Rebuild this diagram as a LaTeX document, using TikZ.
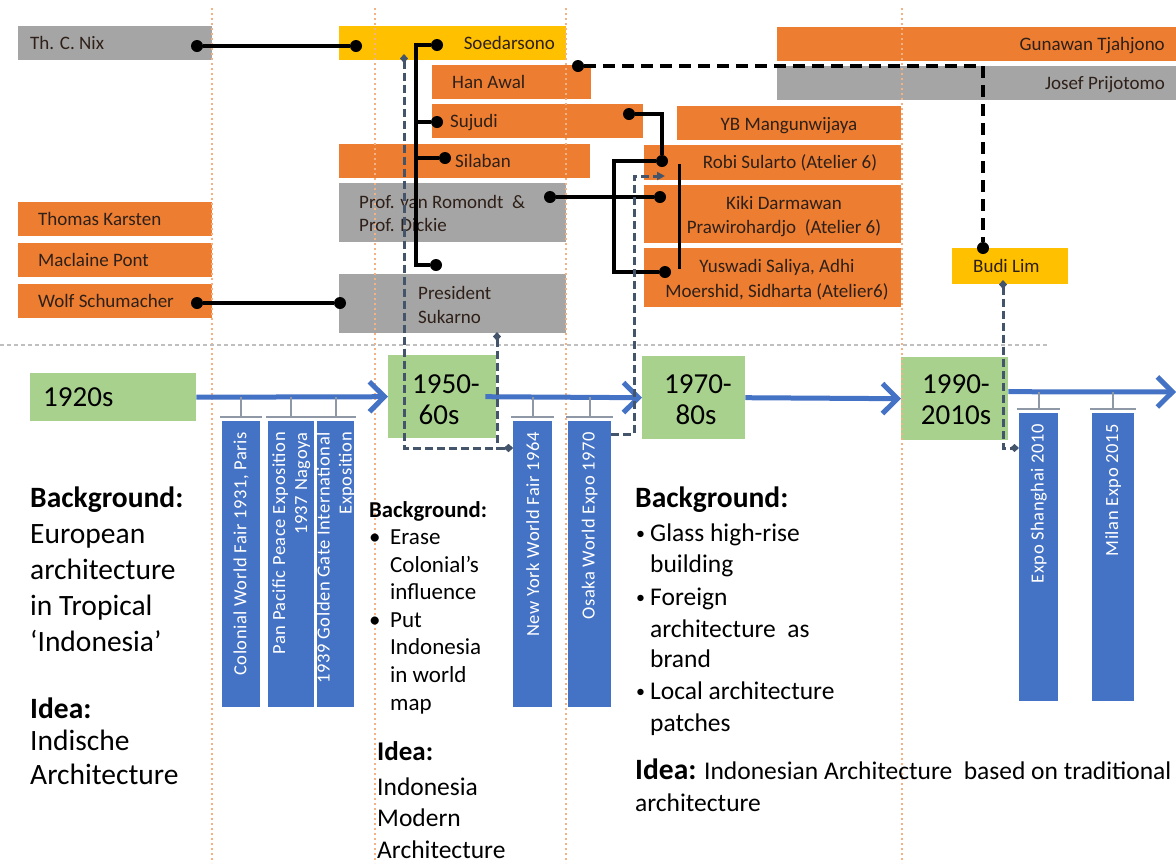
\documentclass[tikz,border=0pt]{standalone}
\usepackage{fontspec}
\setmainfont{Carlito}
\usetikzlibrary{arrows.meta,calc}

\definecolor{orng}{HTML}{ED7D31}
\definecolor{grey}{HTML}{A5A5A5}
\definecolor{gold}{HTML}{FFC000}
\definecolor{leaf}{HTML}{A9D18E}
\definecolor{expo}{HTML}{4472C4}
\definecolor{slate}{HTML}{44546A}
\definecolor{peach}{HTML}{F4B183}
\definecolor{txt}{HTML}{2E2018}

\begin{document}
\begin{tikzpicture}[x=1pt,y=-1pt,
    box/.style={anchor=north west, inner sep=0, minimum height=34},
    who/.style={anchor=base west, inner sep=0, text=txt, font=\fontsize{19}{21}\selectfont},
    era/.style={anchor=north west, inner sep=0, fill=leaf},
    yr/.style={anchor=base, inner sep=0, font=\fontsize{29}{32}\selectfont},
    fair/.style={anchor=north west, inner sep=0, fill=expo, minimum height=286},
    fairtxt/.style={anchor=east, rotate=90, inner sep=0, text=white, align=right,
      font=\fontsize{18.5}{22}\selectfont\addfontfeature{LetterSpace=3}},
    axis/.style={expo, line width=5, -{Straight Barb[length=15pt,width=30pt]}},
    tick/.style={draw=slate!60, line width=1.6},
    dot/.style={circle, fill=black, inner sep=0, minimum size=12},
    link/.style={line width=3.5},
    hang/.style={slate, line width=3, dash pattern=on 8pt off 4pt, {Diamond[length=9pt,width=8pt]}-{Diamond[length=9pt,width=8pt]}},
    guide/.style={peach, line width=2, dash pattern=on 2pt off 3pt},
    big/.style={anchor=base west, inner sep=0, font=\fontsize{29.5}{36}\selectfont},
    mid/.style={anchor=base west, inner sep=0, font=\fontsize{23}{28}\selectfont},
    low/.style={anchor=base west, inner sep=0, font=\fontsize{25.5}{31}\selectfont}
  ]
  \useasboundingbox (0,0) rectangle (1176,863);

  % people boxes
  \node[box, fill=grey, minimum width=194] (nix) at (18,26) {};
  \node[box, fill=orng, minimum width=194] (karsten) at (18,202) {};
  \node[box, fill=orng, minimum width=194] (pont) at (18,243) {};
  \node[box, fill=orng, minimum width=194] (wolf) at (18,284) {};
  \node[box, fill=gold, minimum width=227] (soedarsono) at (339,26) {};
  \node[box, fill=orng, minimum width=159] (hanawal) at (432,65) {};
  \node[box, fill=orng, minimum width=211] (sujudi) at (432,104) {};
  \node[box, fill=orng, minimum width=251] (silaban) at (339,144) {};
  \node[box, fill=grey, minimum width=227, minimum height=59] (romondt) at (339,183) {};
  \node[box, fill=grey, minimum width=227, minimum height=59] (sukarno) at (339,274) {};
  \node[box, fill=orng, minimum width=224] (mangun) at (677,106) {};
  \node[box, fill=orng, minimum width=257, minimum height=35] (robi) at (644,145) {};
  \node[box, fill=orng, minimum width=257, minimum height=58] (kiki) at (644,185) {};
  \node[box, fill=orng, minimum width=257, minimum height=59] (yuswadi) at (644,248) {};
  \node[box, fill=orng, minimum width=399] (gunawan) at (777,27) {};
  \node[box, fill=grey, minimum width=399] (josef) at (777,66) {};
  \node[box, fill=gold, minimum width=116, minimum height=36] (budi) at (952,248) {};

  % eras
  \node[era, minimum width=166, minimum height=48] (y1920) at (30,373) {};
  \node[era, minimum width=108, minimum height=83] (y1950) at (388,355) {};
  \node[era, minimum width=103, minimum height=83] (y1970) at (642,356) {};
  \node[era, minimum width=107, minimum height=83] (y1990) at (901,357) {};

  % fairs
  \node[fair, minimum width=38] (colonial) at (222,421) {};
  \node[fair, minimum width=46] (pacific) at (268,421) {};
  \node[fair, minimum width=37] (golden) at (317,421) {};
  \node[fair, minimum width=39] (newyork) at (513,421) {};
  \node[fair, minimum width=43] (osaka) at (568,421) {};
  \node[fair, minimum width=39, minimum height=288] (shanghai) at (1019,413) {};
  \node[fair, minimum width=42, minimum height=288] (milan) at (1092,413) {};

  % guide lines
  \foreach \x in {212,375,566,902}
    \draw[guide] (\x,8) -- (\x,863);
  \draw[black!25, line width=1.5, dash pattern=on 4pt off 3pt] (0,345) -- (1047,345);

  % names
  \node[who] at (30,49) {Th. C. Nix};
  \node[who] at (38,225) {Thomas Karsten};
  \node[who] at (38,266) {Maclaine Pont};
  \node[who] at (38,307) {Wolf Schumacher};
  \node[who, anchor=base east] at (555,49) {Soedarsono};
  \node[who] at (452,88) {Han Awal};
  \node[who] at (450,127) {Sujudi};
  \node[who] at (455,167) {Silaban};
  \node[who] at (359,208) {Prof. van Romondt \ \&};
  \node[who] at (359,231) {Prof. Dickie};
  \node[who] at (418,299) {President};
  \node[who] at (418,323) {Sukarno};
  \node[who, anchor=base] at (789,130) {YB Mangunwijaya};
  \node[who, anchor=base] at (790,168) {Robi Sularto (Atelier 6)};
  \node[who, anchor=base] at (784,209) {Kiki Darmawan};
  \node[who, anchor=base] at (784,233) {Prawirohardjo \ (Atelier 6)};
  \node[who, anchor=base] at (777,272) {Yuswadi Saliya, Adhi};
  \node[who, anchor=base] at (777,297) {Moershid, Sidharta (Atelier6)};
  \node[who, anchor=base east] at (1165,50) {Gunawan Tjahjono};
  \node[who, anchor=base east] at (1165,89) {Josef Prijotomo};
  \node[who] at (973,272) {Budi Lim};

  % era labels
  \node[yr, anchor=base west] at (43,406) {1920s};
  \node[yr] at (446,393) {1950-};
  \node[yr] at (439,424) {60s};
  \node[yr] at (698,393) {1970-};
  \node[yr] at (696,424) {80s};
  \node[yr] at (956,393) {1990-};
  \node[yr] at (956,424) {2010s};

  % fair labels
  \node[fairtxt] at ([yshift=-11]colonial.north) {Colonial World Fair 1931, Paris};
  \node[fairtxt] at ([yshift=-11]pacific.north) {Pan Pacific Peace Exposition\\1937 Nagoya};
  \node[fairtxt] at ([yshift=-11]golden.north) {1939 Golden Gate International\\Exposition};
  \node[fairtxt] at ([yshift=-11]newyork.north) {New York World Fair 1964};
  \node[fairtxt] at ([yshift=-11]osaka.north) {Osaka World Expo 1970};
  \node[fairtxt] at ([yshift=-11]shanghai.north) {Expo Shanghai 2010};
  \node[fairtxt] at ([yshift=-11]milan.north) {Milan Expo 2015};

  % timeline
  \coordinate (axisEnd) at (1176,392);
  \draw[axis] (y1920.east) -- (y1950.west);
  \draw[axis] ([xshift=-11]y1950.east) -- (y1970.west);
  \draw[axis] (y1970.east) -- (y1990.west);
  \draw[axis] ([yshift=7]y1990.east) -- (axisEnd);
  \foreach \b/\a in {colonial/y1920.east, pacific/y1920.east, golden/y1920.east,
                     newyork/y1950.east, osaka/y1950.east, shanghai/axisEnd, milan/axisEnd} {
    \draw[tick] ([xshift=-2,yshift=4]\b.north west) -- ([xshift=2,yshift=4]\b.north east);
    \draw[tick] ([yshift=4]\b.north) -- (\b.north |- \a);
  }

  % influence links
  \node[dot] (nixJ) at (197,46) {};
  \node[dot] (soeL) at (356,46) {};
  \draw[link] (nixJ) -- (soeL);
  \node[dot] (wolfJ) at (197,303) {};
  \node[dot] (sukL) at (340,303) {};
  \draw[link] (wolfJ) -- (sukL);

  \node[dot] (soeJ) at (437,45) {};
  \node[dot] (sujJ) at (437,122) {};
  \node[dot] (silJ) at (445,158) {};
  \node[dot] (sukJ) at (436,265) {};
  \coordinate (trunk) at (416,45);
  \draw[link] (soeJ) -- (trunk) |- (sukJ);
  \draw[link] (trunk |- sujJ) -- (sujJ);
  \draw[link] (trunk |- silJ) -- (silJ);

  \node[dot] (sujR) at (629,114) {};
  \node[dot] (robJ) at (662,161) {};
  \node[dot] (yusJ) at (665,272) {};
  \node[dot] (proJ) at (550,197) {};
  \node[dot] (kikJ) at (660,197) {};
  \draw[link] (sujR) -| (robJ);
  \draw[link] (robJ) -- ++(-48,0) |- (yusJ);
  \draw[link] (proJ) -- (kikJ);
  \coordinate (ateA) at (679,164);
  \coordinate (ateB) at (679,269);
  \draw[link, line width=3] (ateA) -- (ateB);

  \node[dot] (hanJ) at (578,66) {};
  \node[dot] (budJ) at (983,248) {};
  \draw[line width=4, dash pattern=on 12pt off 7pt] (hanJ) -| (budJ);

  % expo links
  \coordinate (soeB) at (404,54);
  \coordinate (sukB) at (497,332);
  \coordinate (nyL) at (513,448);
  \draw[hang] (soeB) |- (nyL);
  \draw[hang] (sukB) |- (nyL);
  \coordinate (osR) at (611,434);
  \coordinate (robL) at (665,176);
  \draw[hang, -{Triangle[length=8pt,width=8pt]}] (osR) -- ++(23,0) |- (robL);
  \coordinate (budB) at (1003,280);
  \coordinate (shL) at (1019,448);
  \draw[hang] (budB) |- (shL);

  % 1920s notes
  \node[big, font=\fontsize{29.5}{36}\selectfont\bfseries] (bgA) at (30,507) {Background:};
  \foreach \t [count=\i] in {European, architecture, in Tropical, ‘Indonesia’}
    \node[big] (bgA\i) at (30,{507+36*\i}) {\t};
  \node[big, font=\fontsize{29.5}{36}\selectfont\bfseries] (idA) at (30,718) {Idea:};
  \node[big] (idA1) at (30,750) {Indische};
  \node[big] (idA2) at (30,784) {Architecture};

  % 1950s notes
  \node[mid, font=\fontsize{22.7}{28}\selectfont\bfseries] (bgB) at (369,517) {Background:};
  \foreach \t/\y [count=\i] in {Erase/544, Colonial’s/572, influence/599, Put/627, Indonesia/654, in world/682, map/710}
    \node[mid] (bgB\i) at (390,\y) {\t};
  \node[mid] (dotB1) at (369,544) {\textbullet};
  \node[mid] (dotB2) at (369,627) {\textbullet};
  \node[mid, font=\fontsize{27}{32}\selectfont\bfseries] (idB) at (377,760) {Idea:};
  \foreach \t/\y [count=\i] in {Indonesia/795, Modern/826, Architecture/858}
    \node[low] (idB\i) at (377,\y) {\t};

  % 1970s notes
  \node[big, font=\fontsize{29.5}{36}\selectfont\bfseries] (bgC) at (635,507) {Background:};
  \foreach \t/\y [count=\i] in {Glass high-rise/541, building/572, Foreign/605, architecture \ as/637,
                               brand/667, Local architecture/699, patches/731}
    \node[low] (bgC\i) at (650,\y) {\t};
  \foreach \y [count=\i] in {541,605,699}
    \node[low, font=\fontsize{18}{20}\selectfont] (dotC\i) at (636,{\y-2}) {\textbullet};
  \node[low] (idC) at (635,779) {{\fontsize{29.5}{36}\selectfont\bfseries Idea:} Indonesian Architecture \ based on traditional};
  \node[low] (idC1) at (635,811) {architecture};
\end{tikzpicture}
\end{document}
